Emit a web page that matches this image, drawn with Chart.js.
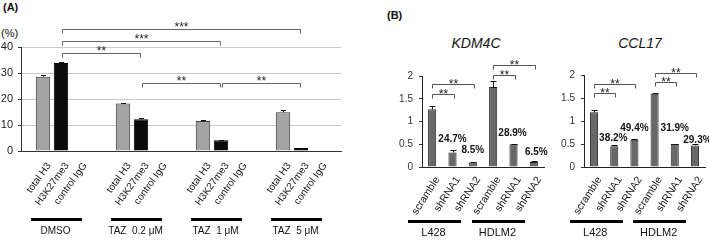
<!DOCTYPE html>
<html><head><meta charset="utf-8">
<script src="https://cdn.jsdelivr.net/npm/chart.js@4/dist/chart.umd.min.js"></script>
<style>
html,body{margin:0;padding:0;background:#fff;width:709px;height:240px;overflow:hidden;font-family:"Liberation Sans",Arial,sans-serif;color:#111;}
canvas{position:absolute;top:0;}
.lbl{position:absolute;font-weight:bold;font-size:11px;line-height:11px;}
.title{position:absolute;font-style:italic;font-size:14px;line-height:14px;transform:translateX(-50%);white-space:nowrap;}
</style></head><body>
<div class="lbl" style="left:3px;top:2px">(A)</div>
<div class="lbl" style="left:387px;top:10px">(B)</div>
<div style="position:absolute;left:1px;top:28px;font-size:11px;line-height:11px;">(%)</div>
<div class="title" style="left:476px;top:36px">KDM4C</div>
<div class="title" style="left:640px;top:36px">CCL17</div>
<canvas id="cA" width="360" height="240" style="left:0"></canvas>
<canvas id="cK" width="170" height="240" style="left:380px"></canvas>
<canvas id="cC" width="159" height="240" style="left:550px"></canvas>
<script>
// ---------- Panel A data ----------
const panelAGroups = ['DMSO', 'TAZ  0.2 \u03bcM', 'TAZ  1 \u03bcM', 'TAZ  5 \u03bcM'];
const panelASeries = ['total H3', 'H3K27me3', 'control IgG'];
const totalH3 = [28.6, 18.3, 11.5, 14.9];
const totalH3Err = [0.5, 0.3, 0.4, 0.8];
const h3k27me3 = [33.8, 12.2, 4.1, 1.2];
const h3k27me3Err = [0.3, 0.4, 0.1, 0.1];
const controlIgG = [0, 0, 0, 0];
const controlIgGErr = [0, 0, 0, 0];
const panelATicks = [0, 10, 20, 30, 40];
const panelASig = [[0, 3, '***'], [0, 2, '***'], [0, 1, '**'], [1, 2, '**'], [2, 3, '**']];

// ---------- Panel B data ----------
const shCategories = ['scramble', 'shRNA1', 'shRNA2', 'scramble', 'shRNA1', 'shRNA2'];
const cellLines = ['L428', 'HDLM2'];
const kdm4c = [1.27, 0.32, 0.10, 1.76, 0.50, 0.11];
const kdm4cErr = [0.06, 0.05, 0.01, 0.13, 0.01, 0.02];
const kdm4cPct = ['', '24.7%', '8.5%', '', '28.9%', '6.5%'];
const ccl17 = [1.19, 0.45, 0.59, 1.59, 0.50, 0.47];
const ccl17Err = [0.05, 0.03, 0.01, 0.01, 0.01, 0.03];
const ccl17Pct = ['', '38.2%', '49.4%', '', '31.9%', '29.3%'];
const panelBTicks = [0, 0.5, 1, 1.5, 2];
const panelBSig = [[0, 1, '**'], [0, 2, '**'], [3, 4, '**'], [3, 5, '**']];

const FONT = '"Liberation Sans", Arial, sans-serif';
Chart.defaults.font.family = FONT;
Chart.defaults.color = '#222';

const annotPlugin = {
  id: 'annot',
  afterDraw(chart, args, o) {
    const ctx = chart.ctx, ys = chart.scales.y;
    const zeroY = ys.getPixelForValue(0);
    ctx.save();
    ctx.lineWidth = 1;
    // error bars (upper half)
    ctx.strokeStyle = '#111';
    chart.data.datasets.forEach((ds, di) => {
      const errs = ds.errors; if (!errs) return;
      chart.getDatasetMeta(di).data.forEach((bar, i) => {
        const e = errs[i]; if (!e) return;
        const x = Math.round(bar.x) + 0.5;
        const yTop = Math.round(ys.getPixelForValue(ds.data[i] + e)) + 0.5;
        ctx.beginPath();
        ctx.moveTo(x, bar.y); ctx.lineTo(x, yTop);
        ctx.moveTo(x - o.cap, yTop); ctx.lineTo(x + o.cap, yTop);
        ctx.stroke();
      });
    });
    // significance brackets
    ctx.font = o.starFont; ctx.textAlign = 'center'; ctx.textBaseline = 'alphabetic';
    const m0 = chart.getDatasetMeta(o.sigDataset);
    o.sig.forEach((b, k) => {
      const x1 = Math.round(m0.data[b[0]].x + o.bIn[0]) + 0.5;
      const x2 = Math.round(m0.data[b[1]].x + o.bIn[1]) + 0.5;
      const yy = Math.round(ys.getPixelForValue(o.sigLevels[k])) + 0.5;
      ctx.strokeStyle = o.bracketColor;
      ctx.beginPath();
      ctx.moveTo(x1, yy + o.bTick); ctx.lineTo(x1, yy); ctx.lineTo(x2, yy); ctx.lineTo(x2, yy + o.bTick);
      ctx.stroke();
      ctx.fillStyle = '#222';
      ctx.fillText(b[2], (x1 + x2) / 2, yy + o.starDy);
    });
    // percentage labels
    if (o.pct) {
      ctx.font = o.pctFont; ctx.textBaseline = 'middle'; ctx.fillStyle = '#111';
      const m = chart.getDatasetMeta(0), ds = chart.data.datasets[0];
      o.pct.forEach((t, i) => {
        if (!t) return;
        const top = ys.getPixelForValue(ds.data[i]);
        ctx.fillText(t, m.data[i].x + o.pctDx[i], top - o.pctGap[i]);
      });
    }
    // rotated bar labels
    ctx.font = o.rotFont; ctx.textAlign = 'right'; ctx.textBaseline = 'top'; ctx.fillStyle = '#111';
    chart.data.datasets.forEach((ds, di) => {
      chart.getDatasetMeta(di).data.forEach((bar, i) => {
        ctx.save();
        ctx.translate(bar.x + o.rotDx, zeroY + o.rotDy);
        ctx.rotate(-o.rotAngle * Math.PI / 180);
        ctx.fillText(o.rotLabel(di, i), 0, 0);
        ctx.restore();
      });
    });
    // group underlines and names
    const centers = o.groupCenters(chart);
    ctx.textAlign = 'center'; ctx.textBaseline = 'middle'; ctx.font = o.groupFont; ctx.fillStyle = '#000';
    o.groups.forEach((g, k) => {
      const c = centers[k] + o.groupDx[k];
      ctx.fillRect(Math.round(c - o.groupHalf), Math.round(zeroY + o.lineDy - 1.5), Math.round(2 * o.groupHalf), 3);
      ctx.fillStyle = '#111';
      ctx.fillText(g, c + o.textDx, zeroY + o.textDy);
      ctx.fillStyle = '#000';
    });
    ctx.restore();
  }
};

function yTicksFrom(arr) { return s => { s.ticks = arr.map(v => ({ value: v })); }; }

// ---------- Panel A ----------
new Chart(document.getElementById('cA'), {
  type: 'bar',
  data: {
    labels: panelAGroups,
    datasets: [
      { label: panelASeries[0], data: totalH3, errors: totalH3Err, backgroundColor: '#a4a4a4', borderColor: '#3a3a3a', borderWidth: 1 },
      { label: panelASeries[1], data: h3k27me3, errors: h3k27me3Err, backgroundColor: '#0b0b0b', borderColor: '#000', borderWidth: 1 },
      { label: panelASeries[2], data: controlIgG, errors: controlIgGErr, backgroundColor: '#0b0b0b', borderWidth: 0 }
    ]
  },
  options: {
    responsive: false, animation: false, devicePixelRatio: 1,
    datasets: { bar: { categoryPercentage: 0.675, barPercentage: 0.8 } },
    layout: { padding: { top: 47, right: 19, left: 0, bottom: 0 } },
    plugins: {
      legend: { display: false }, tooltip: { enabled: false },
      annot: {
        cap: 2.5, starFont: '12px ' + FONT, bracketColor: '#666', bTick: 4, bIn: [1, -1.5], starDy: 1,
        sigDataset: 1, sig: panelASig, sigLevels: [46.9, 42.4, 37.8, 26.2, 26.2],
        rotFont: '10px ' + FONT, rotAngle: 54, rotDx: 2, rotDy: 10,
        rotLabel: (di, i) => panelASeries[di],
        groups: panelAGroups, groupFont: '10px ' + FONT,
        groupCenters: ch => panelAGroups.map((g, k) => ch.scales.x.getPixelForValue(k)),
        groupDx: [-5, -5, -5, -5], groupHalf: 25.5, lineDy: 68, textDx: -0.5, textDy: 80
      }
    },
    scales: {
      x: { ticks: { display: false }, grid: { display: false }, border: { color: '#333' }, afterFit: s => { s.height = 89; } },
      y: {
        min: 0, max: 40, afterBuildTicks: yTicksFrom(panelATicks),
        ticks: { font: { size: 11 }, color: '#222', padding: 5, callback: v => String(v) },
        grid: { color: '#c9c9c9', tickColor: '#333', tickLength: 3 },
        border: { color: '#333' }, afterFit: s => { s.width = 21; }
      }
    }
  },
  plugins: [annotPlugin]
});

// ---------- Panel B ----------
function makeB(id, values, errs, pct, padTop, yWidth, padRight, levels, pctGap, pctDx) {
  new Chart(document.getElementById(id), {
    type: 'bar',
    data: {
      labels: shCategories,
      datasets: [{ data: values, errors: errs, backgroundColor: '#686868', borderColor: '#222', borderWidth: 1 }]
    },
    options: {
      responsive: false, animation: false, devicePixelRatio: 1,
      datasets: { bar: { categoryPercentage: 1, barPercentage: 0.4 } },
      layout: { padding: { top: padTop, right: padRight, left: 0, bottom: 0 } },
      plugins: {
        legend: { display: false }, tooltip: { enabled: false },
        annot: {
          cap: 3, starFont: '12px ' + FONT, bracketColor: '#555', bTick: 4, bIn: [0, 1], starDy: 3,
          sigDataset: 0, sig: panelBSig, sigLevels: levels,
          pct: pct, pctFont: 'bold 10px ' + FONT, pctGap: pctGap, pctDx: pctDx,
          rotFont: '10.5px ' + FONT, rotAngle: 57, rotDx: 1, rotDy: 8,
          rotLabel: (di, i) => shCategories[i],
          groups: cellLines, groupFont: '11px ' + FONT,
          groupCenters: ch => { const m = ch.getDatasetMeta(0).data; return cellLines.map((g, k) => (m[3 * k].x + m[3 * k + 2].x) / 2); },
          groupDx: [-18, -15], groupHalf: 26.4, lineDy: 54.3, textDx: -1, textDy: 65.7
        }
      },
      scales: {
        x: { ticks: { display: false }, grid: { display: false }, border: { color: '#222' }, afterFit: s => { s.height = 73; } },
        y: {
          min: 0, max: 2, afterBuildTicks: yTicksFrom(panelBTicks),
          ticks: { font: { size: 10 }, color: '#333', padding: 6, callback: v => String(v) },
          grid: { drawOnChartArea: false, tickColor: '#333', tickLength: 3 },
          border: { color: '#222' }, afterFit: s => { s.width = yWidth; }
        }
      }
    },
    plugins: [annotPlugin]
  });
}
makeB('cK', kdm4c, kdm4cErr, kdm4cPct, 76, 42, 6, [1.60, 1.82, 2.02, 2.24], [0, 13, 12, 0, 10.7, 10], [0, 0, 0, 0, -1, 2.5]);
makeB('cC', ccl17, ccl17Err, ccl17Pct, 75, 34, 4, [1.60, 1.80, 1.84, 2.05], [0, 8.4, 11.7, 0, 16, 5.4], [0, -1, 0, 0, 0, 2.5]);
</script>
</body></html>
